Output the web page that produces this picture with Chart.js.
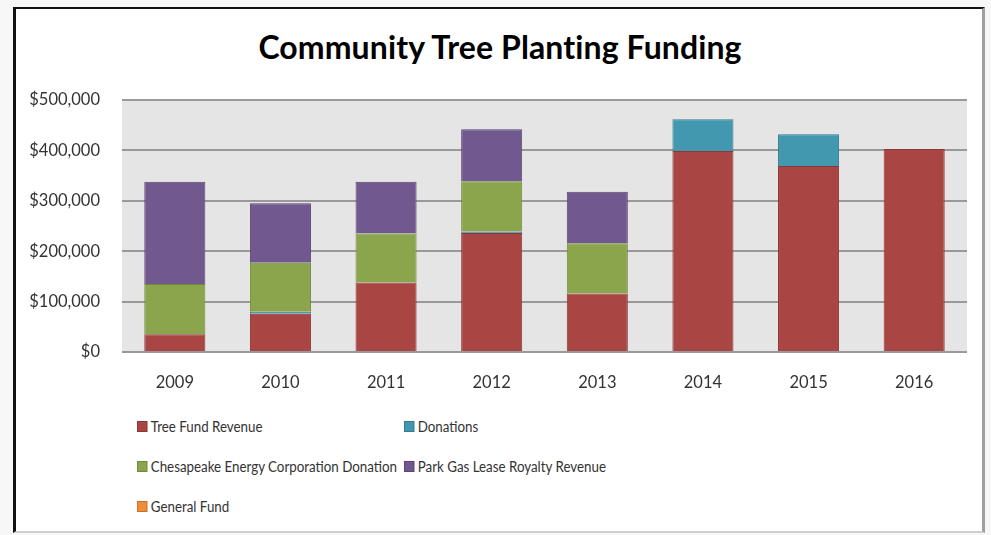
<!DOCTYPE html>
<html lang="en">
<head>
    <meta charset="UTF-8">
    <title>Community Tree Planting Funding</title>
    <script src="https://cdn.jsdelivr.net/npm/chart.js"></script>
    <style>
        body {
            margin: 0;
            width: 991px;
            height: 535px;
            background: #f7f7f7;
            font-family: Lato, "Open Sans", sans-serif;
            overflow: hidden;
            position: relative;
        }
        .frame {
            position: absolute;
            left: 13px;
            top: 7px;
            width: 972px;
            height: 526px;
            background: white;
            border-left: 3px solid #111;
            border-top: 2px solid #111;
            border-right: 3px solid #a0a0a0;
            border-bottom: 2px solid #cfcfcf;
            box-sizing: border-box;
        }
        .title {
            position: absolute;
            left: 0;
            width: 1000px;
            top: 27px;
            text-align: center;
            font-size: 32px;
            font-weight: bold;
            color: #000;
            letter-spacing: 0.1px;
        }
        #chartBox {
            position: absolute;
            left: 0;
            top: 0;
            width: 991px;
            height: 400px;
        }
        .legend {
            position: absolute;
            left: 0;
            top: 0;
        }
        .legend-item {
            position: absolute;
            display: flex;
            align-items: center;
            font-size: 15.5px;
            color: #333;
            white-space: nowrap;
            transform: scaleX(0.86);
            transform-origin: left center;
        }
        .legend-item span.box {
            display: inline-block;
            width: 10px;
            height: 9px;
            margin-right: 4px;
            border: 1px solid;
        }
    </style>
</head>
<body>
    <div class="frame"></div>
    <div class="title">Community Tree Planting Funding</div>
    <div id="chartBox"><canvas id="fundingChart"></canvas></div>
    <div class="legend" id="legend"></div>

    <script>
        const years = ['2009', '2010', '2011', '2012', '2013', '2014', '2015', '2016'];

        const treeFundRevenue = [35000, 76000, 138000, 236000, 116000, 399000, 369000, 403000];
        const donations = [0, 4000, 0, 3000, 0, 63000, 63000, 0];
        const chesapeakeDonation = [100000, 97000, 97000, 100000, 100000, 0, 0, 0];
        const parkGasRoyalty = [203000, 118000, 103000, 103000, 102000, 0, 0, 0];
        const generalFund = [0, 0, 0, 0, 0, 0, 0, 0];

        const seriesNames = ['Tree Fund Revenue', 'Donations', 'Chesapeake Energy Corporation Donation', 'Park Gas Lease Royalty Revenue', 'General Fund'];
        const seriesData = [treeFundRevenue, donations, chesapeakeDonation, parkGasRoyalty, generalFund];
        const fillColors = ['#a94543', '#4298af', '#8ba54c', '#71588f', '#ee8c3a'];
        const edgeColors = ['#8a3735', '#357c90', '#6f8a3c', '#5a4573', '#c8702a'];

        // plot area background
        const plotBg = {
            id: 'plotBg',
            beforeDraw(chart) {
                const { ctx, chartArea: a } = chart;
                ctx.save();
                ctx.fillStyle = '#e5e5e5';
                ctx.fillRect(a.left, a.top, a.right - a.left, a.bottom - a.top);
                ctx.restore();
            }
        };

        new Chart(document.getElementById('fundingChart'), {
            type: 'bar',
            data: {
                labels: years,
                datasets: seriesNames.map((name, i) => ({
                    label: name,
                    data: seriesData[i],
                    backgroundColor: fillColors[i],
                    borderColor: edgeColors[i],
                    borderWidth: 1,
                    barPercentage: 0.578,
                    categoryPercentage: 1
                }))
            },
            options: {
                responsive: true,
                maintainAspectRatio: false,
                animation: false,
                layout: { padding: { top: 100, right: 24, bottom: 0, left: 0 } },
                plugins: {
                    legend: { display: false },
                    tooltip: { enabled: false }
                },
                scales: {
                    x: {
                        stacked: true,
                        grid: { display: false, drawTicks: false },
                        border: { display: false },
                        ticks: {
                            padding: 21,
                            color: '#333',
                            font: { family: 'Lato', size: 16.5 }
                        },
                        afterFit(scale) { scale.height = 48; }
                    },
                    y: {
                        stacked: true,
                        min: 0,
                        max: 500000,
                        grid: { color: '#999', lineWidth: 2, drawTicks: false },
                        border: { display: false },
                        ticks: {
                            stepSize: 100000,
                            padding: 22,
                            color: '#333',
                            font: { family: 'Lato', size: 16.5 },
                            callback: v => '$' + v.toLocaleString('en-US')
                        },
                        afterFit(scale) { scale.width = 122; }
                    }
                }
            },
            plugins: [plotBg]
        });

        // two-column legend like the original
        const legendPos = [[137, 417], [404, 417], [137, 457], [404, 457], [137, 497]];
        const legend = document.getElementById('legend');
        seriesNames.forEach((name, i) => {
            const item = document.createElement('div');
            item.className = 'legend-item';
            item.style.left = legendPos[i][0] + 'px';
            item.style.top = legendPos[i][1] + 'px';
            item.innerHTML = `<span class="box" style="background:${fillColors[i]};border-color:${edgeColors[i]}"></span>${name}`;
            legend.appendChild(item);
        });
    </script>
</body>
</html>
